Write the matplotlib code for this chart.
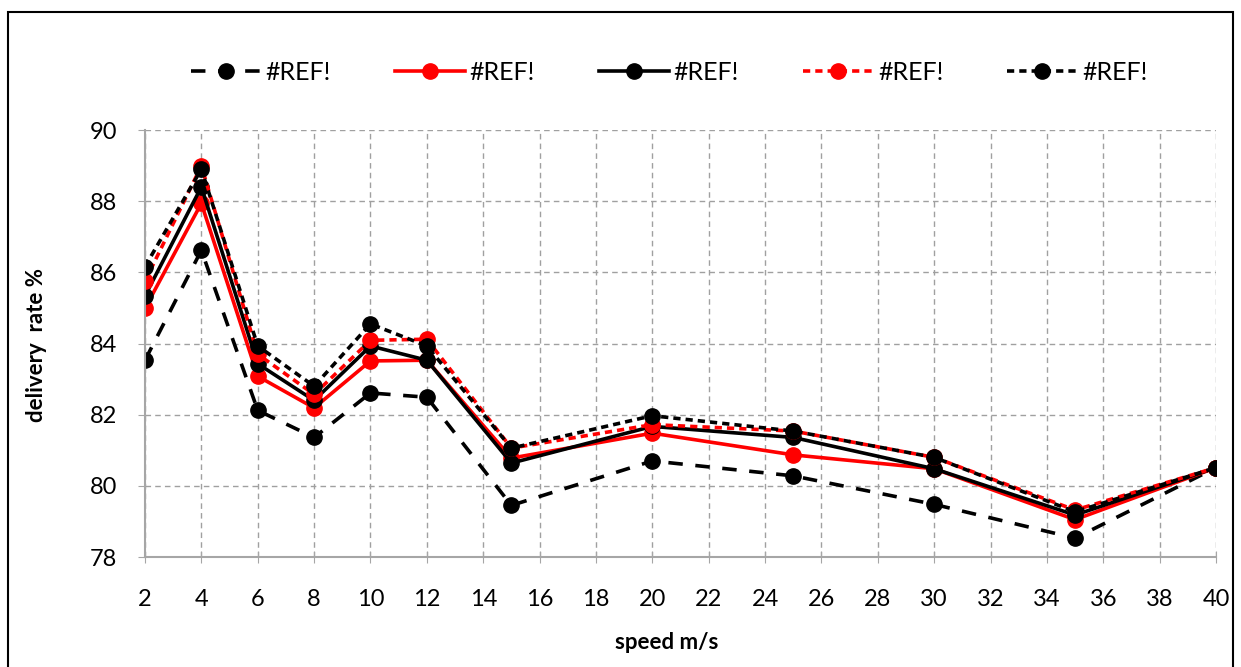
import matplotlib
matplotlib.use("Agg")
import matplotlib.pyplot as plt
from matplotlib.patches import Rectangle

plt.rcParams['font.family'] = ['Lato', 'DejaVu Sans']

speed = [2, 4, 6, 8, 10, 12, 15, 20, 25, 30, 35, 40]

# five series, all labelled #REF! in the source sheet
s1 = [83.53, 86.62, 82.12, 81.36, 82.61, 82.49, 79.45, 80.70, 80.28, 79.48, 78.53, 80.51]
s2 = [84.99, 87.94, 83.08, 82.19, 83.51, 83.53, 80.78, 81.48, 80.87, 80.48, 79.05, 80.51]
s3 = [85.34, 88.40, 83.43, 82.40, 83.93, 83.53, 80.64, 81.67, 81.36, 80.48, 79.18, 80.51]
s4 = [85.75, 88.99, 83.70, 82.57, 84.09, 84.12, 81.06, 81.72, 81.54, 80.80, 79.32, 80.51]
s5 = [86.16, 88.90, 83.93, 82.80, 84.55, 83.93, 81.06, 81.97, 81.54, 80.80, 79.27, 80.51]
labels = ["#REF!", "#REF!", "#REF!", "#REF!", "#REF!"]

xticks = list(range(2, 41, 2))
yticks = [78, 80, 82, 84, 86, 88, 90]

W, H = 1241, 667
fig = plt.figure(figsize=(W / 100, H / 100), dpi=100)
ax = fig.add_axes([145 / W, 1 - 557 / H, (1216 - 145) / W, (557 - 130) / H])

lw = 2.6
ms = 11
ax.plot(speed, s1, color="black", lw=lw, marker="o", ms=ms, dashes=(4, 3.5), label=labels[0])
ax.plot(speed, s2, color="red", lw=lw, marker="o", ms=ms, label=labels[1])
ax.plot(speed, s3, color="black", lw=lw, marker="o", ms=ms, label=labels[2])
ax.plot(speed, s4, color="red", lw=lw, marker="o", ms=ms, dashes=(2, 1.4), label=labels[3])
ax.plot(speed, s5, color="black", lw=lw, marker="o", ms=ms, dashes=(2, 1.4), label=labels[4])

ax.set_xlim(2, 40)
ax.set_ylim(78, 90)
ax.set_xticks(xticks)
ax.set_yticks(yticks)
ax.grid(True, color="#A0A0A0", linestyle=(0, (4, 3)), linewidth=1)
ax.set_axisbelow(True)

for side in ["top", "right"]:
    ax.spines[side].set_visible(False)
for side in ["left", "bottom"]:
    ax.spines[side].set_color("#A6A6A6")
    ax.spines[side].set_linewidth(1.5)

ax.tick_params(axis="x", colors="#A6A6A6", direction="inout", length=8, labelsize=17, labelcolor="black", pad=19)
ax.tick_params(axis="y", colors="#A6A6A6", direction="out", length=5, labelsize=17, labelcolor="black", pad=15)

ax.set_xlabel("speed m/s", fontsize=16, fontweight="bold")
ax.set_ylabel("delivery  rate %", fontsize=16, fontweight="bold")
ax.xaxis.set_label_coords((667 - 145) / 1071, (557 - 632) / 427)
ax.yaxis.set_label_coords((47 - 145) / 1071, (557 - 345) / 427)

ax.legend(loc="center", bbox_to_anchor=(669 / W, 1 - 72 / H), bbox_transform=fig.transFigure,
          ncol=5, frameon=False, fontsize=18, handlelength=2.8, handletextpad=0.2,
          columnspacing=2.55, numpoints=1)

# outer chart border
fig.patches.append(Rectangle((8 / W, -0.05), (1233 - 8) / W, 1.05 - 12 / H,
                             transform=fig.transFigure, fill=False, edgecolor="black", lw=1.5))

fig.savefig("out.png", dpi=100)
